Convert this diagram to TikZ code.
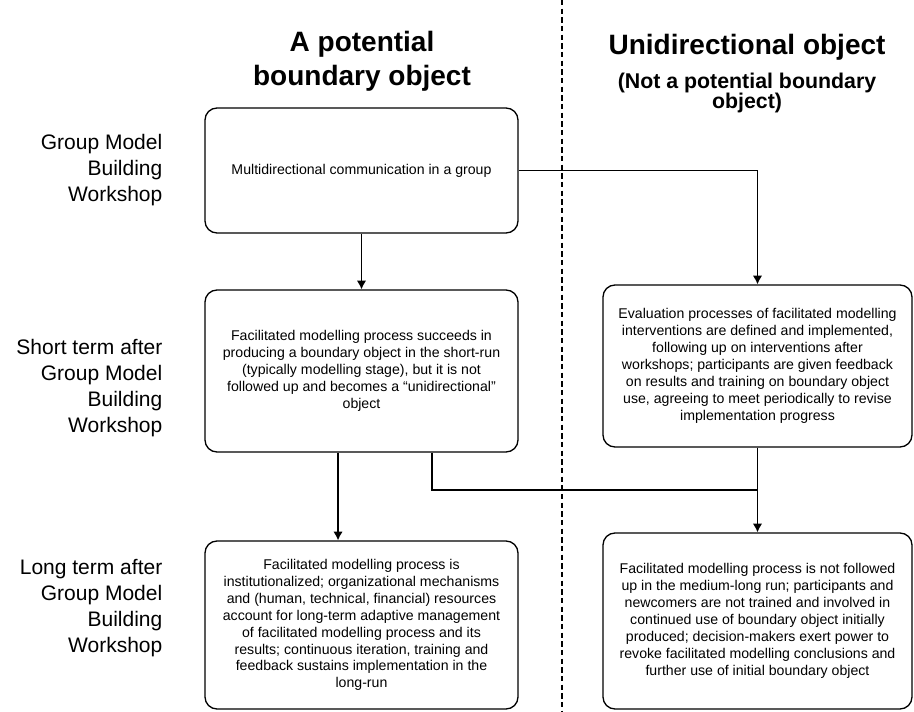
\documentclass[tikz,border=0pt]{standalone}
\usepackage{fontspec}
\setmainfont{Liberation Sans}
\usetikzlibrary{arrows.meta}

\begin{document}
\begin{tikzpicture}[
    x=0.75pt,y=-0.75pt,
    box/.style={draw,line width=1pt,rounded corners=9pt,align=center,
                inner sep=2pt,font=\fontsize{10.6}{12.7}\selectfont},
    lbox/.style={box,minimum width=234.75pt},
    rbox/.style={box,minimum width=231.75pt},
    rowlab/.style={anchor=east,align=right,font=\fontsize{15.75}{19.5}\selectfont},
    head/.style={align=center,font=\bfseries\fontsize{21}{25.5}\selectfont},
    subhead/.style={align=center,font=\bfseries\fontsize{16}{15}\selectfont},
    arrow/.style={-{Latex[length=6.5pt,width=7pt]},line width=1pt},
    link/.style={line width=1pt}
  ]
    \useasboundingbox (0,0) rectangle (914,712);
    \draw[line width=1pt,dash pattern=on 4pt off 2.5pt] (562,0) -- (562,712);

    \node[head] (lt) at (362,61) {A potential\\boundary object};
    \node[head] (rt) at (747,47) {Unidirectional object};
    \node[subhead] (rs) at (747,93) {(Not a potential boundary\\object)};

    \node[rowlab] (r1) at (167,170) {Group Model\\Building\\Workshop};
    \node[rowlab] (r2) at (167,388) {Short term after\\Group Model\\Building\\Workshop};
    \node[rowlab] (r3) at (167,608) {Long term after\\Group Model\\Building\\Workshop};

    \node[lbox,minimum height=93.75pt] (a1) at (361.5,170.5)
      {Multidirectional communication in a group};
    \node[lbox,minimum height=121.5pt] (a2) at (361.5,371)
      {Facilitated modelling process succeeds in\\producing a boundary object in the short-run\\(typically modelling stage), but it is not\\followed up and becomes a “unidirectional”\\object};
    \node[lbox,minimum height=126pt] (a3) at (361.5,625)
      {Facilitated modelling process is\\institutionalized; organizational mechanisms\\and (human, technical, financial) resources\\account for long-term adaptive management\\of facilitated modelling process and its\\results; continuous iteration, training and\\feedback sustains implementation in the\\long-run};
    \node[rbox,minimum height=121.5pt] (b1) at (757.5,366)
      {Evaluation processes of facilitated modelling\\interventions are defined and implemented,\\following up on interventions after\\workshops; participants are given feedback\\on results and training on boundary object\\use,  agreeing to meet periodically to revise\\implementation progress};
    \node[rbox,minimum height=132pt] (b2) at (757.5,621)
      {Facilitated modelling process is not followed\\up in the medium-long run; participants and\\newcomers are not trained and involved in\\continued use of boundary object initially\\produced; decision-makers exert power to\\revoke facilitated modelling conclusions and\\further use of initial boundary object};

    \coordinate (j) at (757.5,490);
    \draw[arrow] (a1) -- (a2);
    \draw[arrow] (a1.east) -| (b1.north);
    \draw[arrow] ([xshift=-17.6pt]a2.south) -- ([xshift=-17.6pt]a3.north);
    \draw[link] ([xshift=52.9pt]a2.south) |- (j);
    \draw[arrow] (b1) -- (b2);
  \end{tikzpicture}
\end{document}
